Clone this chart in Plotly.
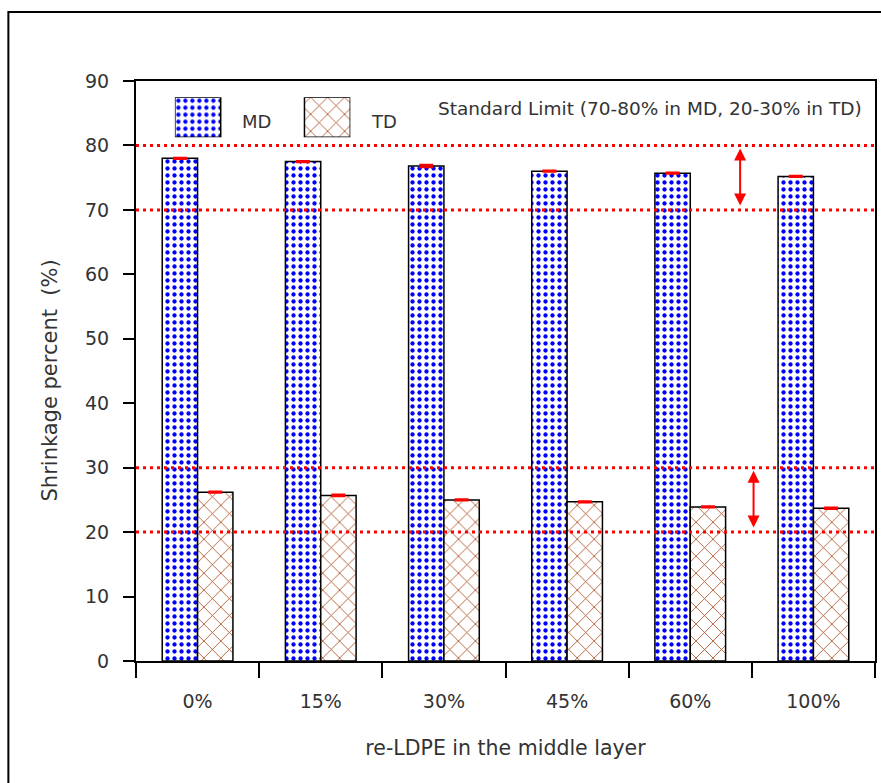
import plotly.graph_objects as go

# Film composition (share of recycled LDPE in the middle layer)
categories = ["0%", "15%", "30%", "45%", "60%", "100%"]

# Shrinkage percent in machine and transverse direction
md_values = [78.0, 77.5, 76.8, 76.0, 75.7, 75.2]
td_values = [26.2, 25.7, 25.0, 24.7, 23.9, 23.7]

# Standard deviations (error bars)
md_err = [0.1, 0.1, 0.2, 0.1, 0.1, 0.1]
td_err = [0.1, 0.15, 0.1, 0.1, 0.1, 0.1]

# Standard limits
md_limits = [70, 80]
td_limits = [20, 30]

FONT = "DejaVu Sans"
TXT = "#333333"
BLUE = "#0000FF"
BROWN = "#A8481A"

md_pattern = dict(shape=".", fgcolor=BLUE, bgcolor="white", fgopacity=1,
                  size=7, solidity=0.3, fillmode="overlay")
td_pattern = dict(shape="x", fgcolor=BROWN, bgcolor="white", fgopacity=1,
                  size=12, solidity=0.13, fillmode="overlay")

fig = go.Figure()

fig.add_trace(go.Bar(
    x=categories, y=md_values, name="MD",
    marker=dict(color="white", pattern=md_pattern, line=dict(color="black", width=1.5)),
    error_y=dict(type="data", array=md_err, color="red", thickness=2, width=7),
    showlegend=False,
))
fig.add_trace(go.Bar(
    x=categories, y=td_values, name="TD",
    marker=dict(color="white", pattern=td_pattern, line=dict(color="black", width=1.5)),
    error_y=dict(type="data", array=td_err, color="red", thickness=2, width=7),
    showlegend=False,
))

# Legend swatches drawn on a small auxiliary axis pair
fig.add_trace(go.Bar(
    x=[0], y=[1], width=[46], offset=0, xaxis="x2", yaxis="y2",
    marker=dict(color="white", pattern=md_pattern, line=dict(color="black", width=1.5)),
    showlegend=False, hoverinfo="skip",
))
fig.add_trace(go.Bar(
    x=[130], y=[1], width=[46], offset=0, xaxis="x2", yaxis="y2",
    marker=dict(color="white", pattern=td_pattern, line=dict(color="black", width=1.5)),
    showlegend=False, hoverinfo="skip",
))

# Dotted limit lines
shapes = []
for lim in md_limits + td_limits:
    shapes.append(dict(type="line", xref="paper", x0=0, x1=1, yref="y", y0=lim, y1=lim,
                       line=dict(color="red", width=3, dash="3px,4px"), layer="above"))

# Outer frame around the whole figure
shapes.append(dict(type="rect", xref="paper", yref="paper",
                   x0=-0.1727, x1=1.05, y0=-0.5, y1=1.119,
                   line=dict(color="black", width=2), fillcolor="rgba(0,0,0,0)", layer="above"))

annotations = [
    # Double-headed arrows marking the limit ranges
    dict(x=4.405, y=md_limits[1], ax=4.405, ay=md_limits[0], xref="x", yref="y", axref="x", ayref="y",
         text="", showarrow=True, arrowside="end+start", arrowhead=2, arrowsize=1.2,
         arrowwidth=2, arrowcolor="red", standoff=3, startstandoff=3),
    dict(x=4.514, y=td_limits[1], ax=4.514, ay=td_limits[0], xref="x", yref="y", axref="x", ayref="y",
         text="", showarrow=True, arrowside="end+start", arrowhead=2, arrowsize=1.2,
         arrowwidth=2, arrowcolor="red", standoff=3, startstandoff=3),
    dict(x=0.985, y=85.8, xref="paper", yref="y", xanchor="right", yanchor="middle",
         text="Standard Limit (70-80% in MD, 20-30% in TD)", showarrow=False,
         font=dict(family=FONT, size=18.5, color=TXT)),
    dict(x=0.1404, y=0.931, xref="paper", yref="paper", xanchor="left", yanchor="middle",
         text="MD", showarrow=False, font=dict(family=FONT, size=18, color=TXT)),
    dict(x=0.3158, y=0.931, xref="paper", yref="paper", xanchor="left", yanchor="middle",
         text="TD", showarrow=False, font=dict(family=FONT, size=18, color=TXT)),
    # Y axis title
    dict(x=-0.1161, y=0.484, xref="paper", yref="paper", xanchor="center", yanchor="middle",
         text="Shrinkage percent  (%)", textangle=-90, showarrow=False,
         font=dict(family=FONT, size=21, color=TXT)),
]

fig.update_layout(
    width=881, height=783,
    margin=dict(l=136, r=4, t=81, b=122),
    paper_bgcolor="white", plot_bgcolor="white",
    barmode="group", bargap=0.426, bargroupgap=0,
    font=dict(family=FONT, size=19, color=TXT),
    shapes=shapes, annotations=annotations,
    xaxis=dict(
        type="category", showline=True, linecolor="black", linewidth=2, mirror=True,
        ticks="outside", tickson="boundaries", ticklen=15, tickwidth=2, tickcolor="black",
        ticklabelstandoff=22, showgrid=False, zeroline=False,
        tickfont=dict(family=FONT, size=19, color=TXT),
        title=dict(text="re-LDPE in the middle layer", standoff=30,
                   font=dict(family=FONT, size=20.5, color=TXT)),
    ),
    yaxis=dict(
        range=[0, 90], dtick=10, showline=True, linecolor="black", linewidth=2, mirror=True,
        ticks="outside", ticklen=11, tickwidth=2, tickcolor="black",
        ticklabelstandoff=10, showgrid=False, zeroline=False,
        tickfont=dict(family=FONT, size=19, color=TXT),
    ),
    xaxis2=dict(domain=[0.0526, 0.290], anchor="y2", range=[0, 176], visible=False, fixedrange=True),
    yaxis2=dict(domain=[0.903, 0.972], anchor="x2", range=[0, 1], visible=False, fixedrange=True),
)

fig.write_html("out.html")
